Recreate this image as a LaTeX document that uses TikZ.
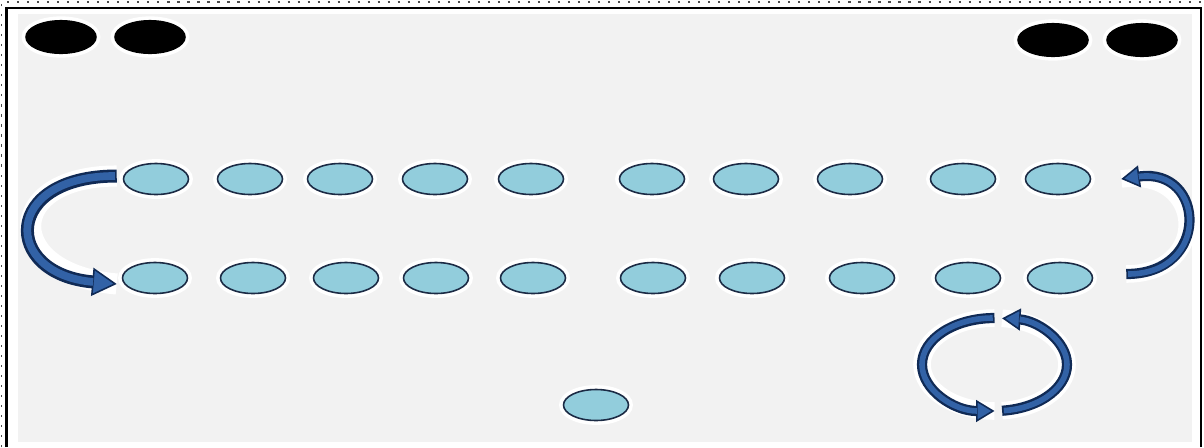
\documentclass[tikz,border=0pt]{standalone}
\usepackage{xcolor}
\definecolor{seatfill}{HTML}{92CDDC}
\definecolor{seatline}{HTML}{1B2A44}
\definecolor{arrowdark}{HTML}{102A55}
\definecolor{arrowmid}{HTML}{3262A6}
\definecolor{panel}{HTML}{F2F2F2}
\usetikzlibrary{arrows.meta,shapes.geometric}
\tikzset{
  seat/.style     = {ellipse, draw=seatline, line width=0.9pt, fill=seatfill,
                     minimum width=1.3cm, minimum height=0.62cm, inner sep=0pt,
                     preaction={draw=white, line width=5pt}},
  dark/.style     = {seat, draw=black, fill=black,
                     minimum width=1.4cm, minimum height=0.65cm},
  bigarrow/.style = {draw=arrowdark, line width=7.4pt,
                     -{Triangle[width=16pt, length=14pt, fill=arrowmid, line width=0.9pt]},
                     preaction={draw=white, line width=12pt, arrows=-},
                     postaction={draw=arrowmid, line width=4.4pt,
                                 shorten >=13.5pt, shorten <=1pt, arrows=-}},
  smallarrow/.style = {draw=arrowdark, line width=5.8pt,
                     -{Triangle[width=12.5pt, length=10.5pt, fill=arrowmid, line width=0.9pt]},
                     preaction={draw=white, line width=10pt, arrows=-},
                     postaction={draw=arrowmid, line width=3.2pt,
                                 shorten >=10pt, shorten <=1pt, arrows=-}}
}
\begin{document}
\begin{tikzpicture}[x=0.02cm, y=-0.02cm]
  % page and frame
  \fill[white] (0,0) rectangle (1204,447);
  \useasboundingbox (0,0) rectangle (1204,447);
  \draw[black!70, line width=0.8pt, dash pattern=on 1.2pt off 4.5pt] (1.5,447) |- (1204,2);
  \draw[black, line width=1.4pt] (6.5,447) |- (1201,8) -- (1201,447);
  \fill[panel] (18,14) rectangle (1192,442);

  % black seats in the corners
  \node[dark] (k1) at (61,37) {};
  \node[dark] (k2) at (150,37) {};
  \node[dark] (k3) at (1053,40) {};
  \node[dark] (k4) at (1142,40) {};

  % two rows of seats
  \foreach \x [count=\i] in {156,250,340,435,531,652,746,850,963,1058}
    \node[seat] (t\i) at (\x,179) {};
  \foreach \x [count=\i] in {155,253,346,436,533,653,752,862,968,1060}
    \node[seat] (b\i) at (\x,278) {};
  \node[seat] (s) at (596,405) {};

  % turning arrows
  \coordinate (la) at ([shift={(-6,-3)}]t1.west);
  \coordinate (lb) at ([shift={(-5,6)}]b1.west);
  \draw[bigarrow] (la) to[out=180, in=175, distance=2.3cm] (lb);

  \coordinate (ra) at ([shift={(33,-4)}]b10.east);
  \coordinate (rb) at ([shift={(30,0)}]t10.east);
  \draw[smallarrow] (ra) to[out=0, in=8, distance=1.7cm] (rb);

  % rotation
  \coordinate (cc) at (994.5,364.5);
  \draw[smallarrow] ([shift={(90:1.45cm and 0.93cm)}]cc)
    arc[start angle=90, end angle=270, x radius=1.45cm, y radius=0.93cm];
  \draw[smallarrow] ([shift={(-84:1.45cm and 0.93cm)}]cc)
    arc[start angle=-84, end angle=84, x radius=1.45cm, y radius=0.93cm];
\end{tikzpicture}
\end{document}
